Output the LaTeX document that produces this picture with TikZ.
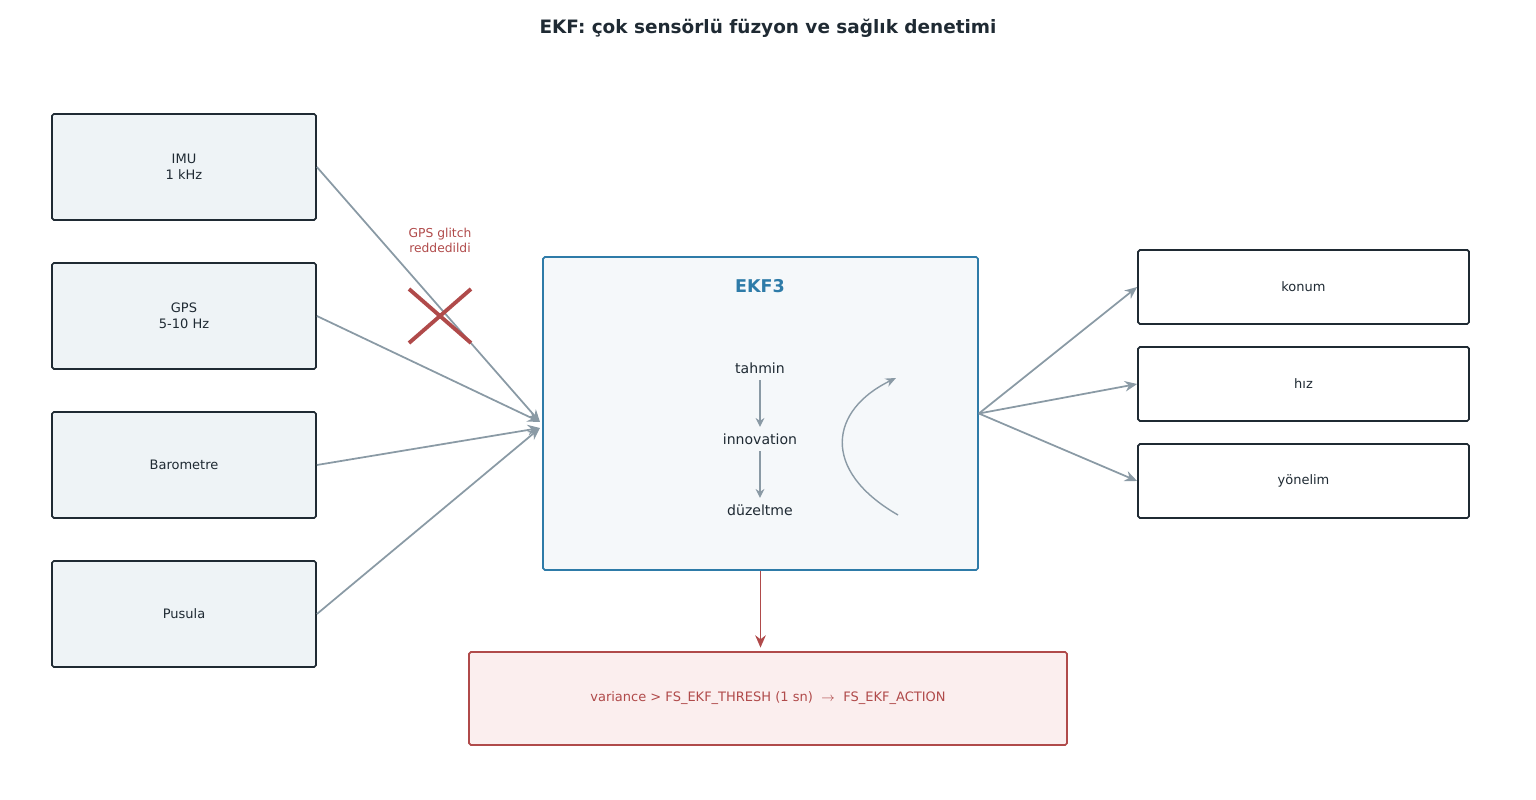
\documentclass[tikz,border=0pt]{standalone}
\usepackage{fontspec}
\setmainfont{DejaVu Sans}
\usetikzlibrary{positioning, arrows.meta}
\definecolor{ink}{HTML}{1F2A33}
\definecolor{wirec}{HTML}{8A9AA5}
\definecolor{ekfblue}{HTML}{2E7BA8}
\definecolor{alert}{HTML}{B04A4A}
\definecolor{srcfill}{HTML}{EEF3F6}
\definecolor{ekffill}{HTML}{F5F8FA}
\definecolor{alertfill}{HTML}{FBEEEE}
\begin{document}
\begin{tikzpicture}[x=0.02cm, y=-0.02cm, line width=1pt, font=\fontsize{7.4}{9}\selectfont]
% Block styles
\tikzset{sensor/.style={draw=ink, fill=srcfill, rounded corners=1pt, minimum width=264*0.02cm, minimum height=106*0.02cm, align=center, text=ink},
         sink/.style={draw=ink, fill=white, rounded corners=1pt, minimum width=331*0.02cm, minimum height=74*0.02cm, text=ink},
         stage/.style={text=ink, font=\fontsize{8}{10}\selectfont},
         wire/.style={draw=wirec, -{Stealth[length=7pt, width=6pt]}}}
\useasboundingbox (0,0) rectangle (1536,800);
\node[font=\bfseries\fontsize{10.5}{12}\selectfont, text=ink] (title) at (768,28) {EKF: çok sensörlü füzyon ve sağlık denetimi};
% Sensors
\node[sensor] (imu) at (184,167) {IMU\\1 kHz};
\node[sensor] (gps) at (184,316) {GPS\\5-10 Hz};
\node[sensor] (baro) at (184,465) {Barometre};
\node[sensor] (pusula) at (184,614) {Pusula};
% Filter
\node[draw=ekfblue, fill=ekffill, rounded corners=1pt, minimum width=435*0.02cm, minimum height=313*0.02cm] (ekf) at (760.5,413.5) {};
\node[text=ekfblue, font=\bfseries\fontsize{10}{12}\selectfont] (ekft) at (760,286) {EKF3};
\node[stage] (tahmin) at (760,368) {tahmin};
\node[stage] (innov) at (760,439) {innovation};
\node[stage] (duz) at (760,510) {düzeltme};
\draw[wire, -{Stealth[length=5pt, width=5pt]}] (tahmin) -- (innov);
\draw[wire, -{Stealth[length=5pt, width=5pt]}] (innov) -- (duz);
\coordinate (c1) at (898,515);
\coordinate (c2) at (896,378);
\draw[wire, line width=.8pt, -{Stealth[length=6pt, width=5pt]}] (c1) .. controls (820,470) and (830,410) .. (c2);
% Inputs
\coordinate (in1) at (540,422);
\coordinate (in2) at (540,428);
\draw[wire] (imu.east) -- (in1);
\draw[wire] (gps.east) -- (in1);
\draw[wire] (baro.east) -- (in2);
\draw[wire] (pusula.east) -- (in2);
% Rejected GPS
\node[text=alert, align=center, font=\fontsize{7}{8.5}\selectfont] (glitch) at (440,240) {GPS glitch\\reddedildi};
\coordinate (rej) at (440,316);
\draw[alert, line width=2.2pt] ([shift={(-31,-27)}]rej) -- ([shift={(31,27)}]rej);
\draw[alert, line width=2.2pt] ([shift={(-31,27)}]rej) -- ([shift={(31,-27)}]rej);
% Outputs
\node[sink] (konum) at (1303.5,287) {konum};
\node[sink] (hiz) at (1303.5,384) {hız};
\node[sink] (yon) at (1303.5,481) {yönelim};
\draw[wire] (ekf.east) -- (konum.west);
\draw[wire] (ekf.east) -- (hiz.west);
\draw[wire] (ekf.east) -- (yon.west);
% Health check
\node[draw=alert, fill=alertfill, rounded corners=1pt, minimum width=598*0.02cm, minimum height=93*0.02cm, text=alert] (fs) at (768,698.5) {variance > FS\_EKF\_THRESH (1 sn) \ $\rightarrow$\ \ FS\_EKF\_ACTION};
\draw[alert, -{Stealth[length=7pt, width=6pt]}] (ekf.south) -- ([yshift=2pt]fs.north -| ekf.south);
\end{tikzpicture}
\end{document}
